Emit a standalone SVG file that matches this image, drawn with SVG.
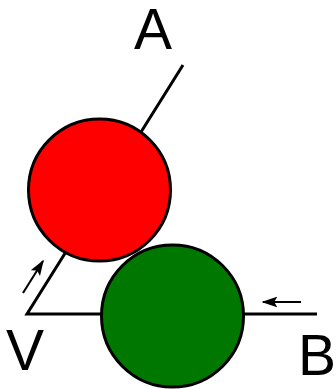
<svg xmlns="http://www.w3.org/2000/svg" width="336" height="389" viewBox="0 0 336 389">
<style>
.ln{stroke:#000;stroke-width:3;fill:none}
.ar{stroke:#000;stroke-width:2;fill:none;marker-end:url(#ah)}
.node{stroke:#000;stroke-width:3}
.lbl{font-family:"Liberation Sans",Arial,sans-serif;font-size:57px;fill:#000}
</style>
<defs>
<marker id="ah" viewBox="0 0 10 10" refX="9" refY="5" markerWidth="8" markerHeight="8" orient="auto" markerUnits="strokeWidth">
<path d="M0,1.6 L10,5 L0,8.4 L2,5 Z" fill="#000"/>
</marker>
</defs>
<g id="connectors">
<path class="ln" d="M183,65 L27,314 L317,314"/>
<line class="ar" x1="23" y1="293" x2="43" y2="261"/>
<line class="ar" x1="301" y1="302" x2="263" y2="302"/>
</g>
<g id="red"><circle class="node" cx="99.5" cy="190" r="71" fill="#ff0000"/></g>
<g id="green"><circle class="node" cx="172.5" cy="316" r="71" fill="#007800"/></g>
<g id="labelA"><text class="lbl" x="134" y="49">A</text></g>
<g id="labelV"><text class="lbl" x="6" y="370">V</text></g>
<g id="labelB"><text class="lbl" x="298" y="375">B</text></g>
</svg>
